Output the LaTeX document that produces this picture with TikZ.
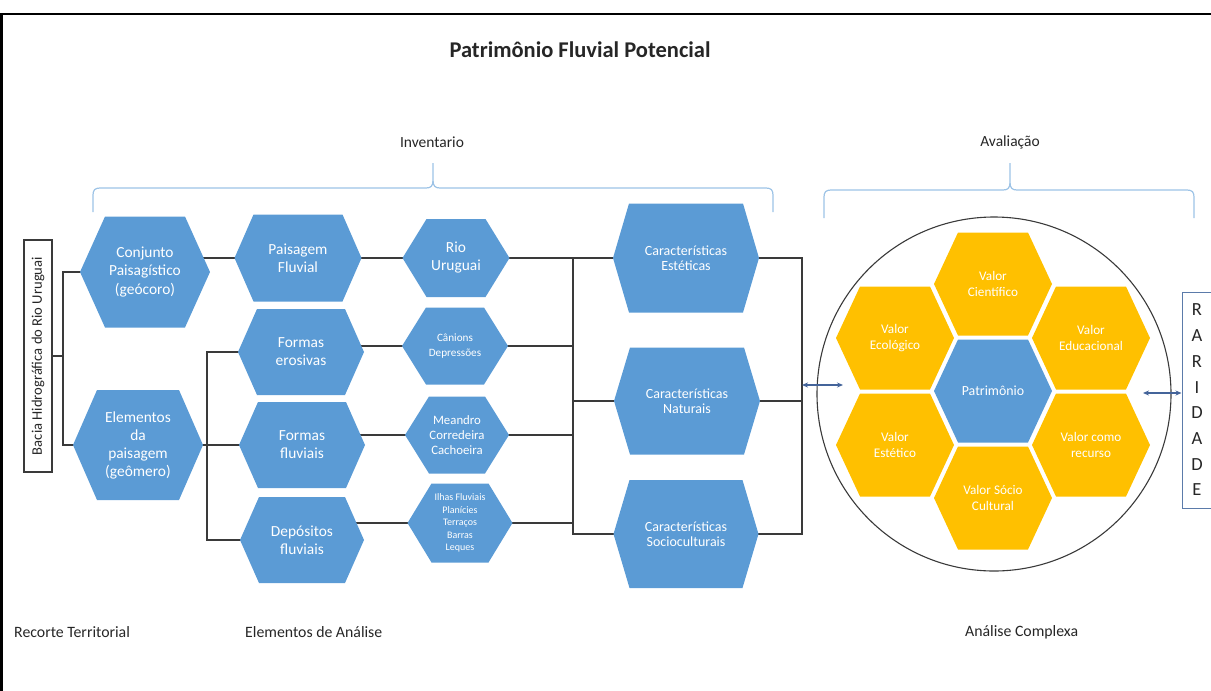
\documentclass[tikz,border=0pt]{standalone}
\usepackage{fontspec}
\usepackage{graphicx}
\setmainfont{Carlito}
\usetikzlibrary{arrows.meta,calc,backgrounds}

\definecolor{hexblue}{HTML}{5B9BD5}
\definecolor{hexgold}{HTML}{FFC000}
\definecolor{linegray}{HTML}{3A3A3A}
\definecolor{bracecol}{HTML}{9DC3E6}
\definecolor{arrowblue}{HTML}{44649A}
\definecolor{labelgray}{HTML}{262626}
\definecolor{boxblue}{HTML}{5B7BAA}

\tikzset{
  hexshape/.style n args={4}{minimum width=#1pt, minimum height=#2pt,
    inner sep=0pt, outer sep=0pt, align=center, text=white,
    path picture={\fill[#4]
      ([xshift=#3pt]path picture bounding box.north west) --
      ([xshift=-#3pt]path picture bounding box.north east) --
      (path picture bounding box.east) --
      ([xshift=-#3pt]path picture bounding box.south east) --
      ([xshift=#3pt]path picture bounding box.south west) --
      (path picture bounding box.west) -- cycle;}},
  hb/.style n args={3}{hexshape={#1}{#2}{#3}{hexblue}},
  hy/.style n args={3}{hexshape={#1}{#2}{#3}{hexgold}},
  fs/.style 2 args={font=\fontsize{#1}{#2}\selectfont},
  conn/.style={draw=linegray, line width=1.1pt},
  dbl/.style={{Stealth[length=6pt,width=5pt]}-{Stealth[length=6pt,width=5pt]},
    draw=arrowblue, line width=1.1pt},
  bracepath/.style={draw=bracecol, line width=1.2pt},
  label/.style={text=labelgray, inner sep=0pt},
}

\begin{document}
\begin{tikzpicture}[x=1pt, y=-1pt]
\path[use as bounding box, clip] (0,0) rectangle (1211,691);

% page frame
\draw[line width=2.8pt, black] (1.3,691) -- (1.3,14) -- (1211,14);

% headings
\node[label, font=\fontsize{22.5}{26}\selectfont\bfseries] (title) at (580,50) {Patrimônio Fluvial Potencial};
\node[label, fs={15.5}{18}] (inv) at (432,142) {Inventario};
\node[label, fs={15.5}{18}] (aval) at (1010,142) {Avaliação};

% curly braces
\draw[bracepath] (93,212) -- (93,195) .. controls (93,190) and (95,188) .. (100,188)
  -- (426,188) .. controls (431,188) and (433,186) .. (433,180) -- (433,163)
  -- (433,180) .. controls (433,186) and (435,188) .. (440,188)
  -- (766,188) .. controls (771,188) and (773,190) .. (773,195) -- (773,212);
\draw[bracepath] (824,218) -- (824,197) .. controls (824,192) and (826,190) .. (831,190)
  -- (1003,190) .. controls (1008,190) and (1010,188) .. (1010,182) -- (1010,163)
  -- (1010,182) .. controls (1010,188) and (1012,190) .. (1017,190)
  -- (1187,190) .. controls (1192,190) and (1194,192) .. (1194,197) -- (1194,218);

% territorial unit
\node[draw=linegray, line width=1.1pt, minimum width=28pt, minimum height=232pt, inner sep=0pt,
  text=labelgray, fs={14.6}{17}] (bacia) at (38,356) {\rotatebox{90}{Bacia Hidrográfica do Rio Uruguai}};

% first column
\node[hb={130}{111}{25}, fs={15.4}{18.3}] (con) at (145,272) {Conjunto\\Paisagístico\\(geócoro)};
\node[hb={130}{110}{24}, fs={15.4}{18}] (ele) at (138,445) {Elementos\\da\\paisagem\\(geômero)};

% second column
\node[hb={127}{87}{19}, fs={15.4}{18}] (pai) at (298,258) {Paisagem\\Fluvial};
\node[hb={126}{86}{19}, fs={15.4}{18}] (ero) at (301,352) {Formas\\erosivas};
\node[hb={126}{86}{19}, fs={15.4}{18}] (flu) at (302,445) {Formas\\fluviais};
\node[hb={124}{86}{19}, fs={15.4}{18}] (dep) at (302,540) {Depósitos\\fluviais};

% third column
\node[hb={107}{78}{24}, fs={15.4}{18}] (rio) at (456,258) {Rio\\Uruguai};
\node[hb={106}{77}{24}, fs={11.2}{15}] (can) at (455,346) {Cânions\\Depressões};
\node[hb={104}{77}{24}, fs={12.8}{15}] (mea) at (457,435) {Meandro\\Corredeira\\Cachoeira};
\node[hb={105}{79}{24}, fs={10}{12.5}] (ilh) at (460,523) {Ilhas Fluviais\\Planícies\\Terraços\\Barras\\Leques};

% fourth column
\node[hb={146}{109}{16}, fs={14}{15}] (est) at (686,258) {Características\\Estéticas};
\node[hb={146}{107}{16}, fs={14}{15}] (nat) at (687,401) {Características\\Naturais};
\node[hb={145}{108}{16}, fs={14}{15}] (soc) at (686,534) {Características\\Socioculturais};

% branch positions of the connector trees
\coordinate (t1) at (63,0);
\coordinate (t2) at (207,0);
\coordinate (t3) at (573,0);
\coordinate (t4) at (802,0);

\begin{scope}[on background layer]
  % territorial unit to its two groups
  \draw[conn] (bacia.east) -- (bacia.east -| t1);
  \draw[conn] (con.center) -- (con.center -| t1) -- (ele.center -| t1) -- (ele.center);
  % landscape set to fluvial landscape
  \draw[conn] (pai.center -| con.center) -- (pai.center);
  % landscape elements to the three forms
  \draw[conn] (ele.center) -- (ele.center -| t2);
  \draw[conn] (ero.center) -- (ero.center -| t2) -- (dep.center -| t2) -- (dep.center);
  \draw[conn] (flu.center) -- (flu.center -| t2);
  % second to third column
  \draw[conn] (rio.center -| pai.center) -- (rio.center);
  \draw[conn] (can.center -| ero.center) -- (can.center);
  \draw[conn] (mea.center -| flu.center) -- (mea.center);
  \draw[conn] (ilh.center -| dep.center) -- (ilh.center);
  % third column to characteristics
  \draw[conn] (rio.center) -- (est.center);
  \draw[conn] (can.center) -- (can.center -| t3);
  \draw[conn] (mea.center) -- (mea.center -| t3);
  \draw[conn] (ilh.center) -- (ilh.center -| t3);
  \draw[conn] (rio.center -| t3) -- (soc.center -| t3) -- (soc.center);
  \draw[conn] (nat.center -| t3) -- (nat.center);
  % characteristics gathered on the right
  \draw[conn] (est.center) -- (est.center -| t4) -- (soc.center -| t4) -- (soc.center);
  \draw[conn] (nat.center) -- (nat.center -| t4);
\end{scope}

% evaluation circle
\node[circle, draw=linegray, line width=1.1pt, minimum size=354pt, inner sep=0pt] (circ) at (994,394) {};

% honeycomb of values
\node[hb={118}{103}{24}, fs={13.9}{16}] (pat) at (993,391) {Patrimônio};
\node[hy={118}{103}{24}, fs={13.2}{15.7}] (cie) at (993,284) {Valor\\Científico};
\node[hy={118}{103}{24}, fs={13.2}{15.7}] (eco) at (895,338) {Valor\\Ecológico};
\node[hy={118}{103}{24}, fs={13.2}{15.7}] (edu) at (1091,338) {Valor\\Educacional};
\node[hy={118}{103}{24}, fs={13.2}{15.7}] (este) at (895,445) {Valor\\Estético};
\node[hy={118}{103}{24}, fs={13.2}{15.7}] (rec) at (1091,445) {Valor como\\recurso};
\node[hy={118}{103}{24}, fs={13.2}{15.7}] (sci) at (993,498) {Valor Sócio\\Cultural};

% rarity box
\node[draw=boxblue, line width=1pt, minimum width=30pt, minimum height=216pt, inner sep=0pt,
  align=center, text=labelgray, fs={18.5}{25.7}] (rar) at (1197,400) {R\\A\\R\\I\\D\\A\\D\\E};

% two-way links
\coordinate (la) at (843,385);
\coordinate (ra) at (1143,393);
\draw[dbl] (la -| t4) -- (la);
\draw[dbl] (ra) -- (ra -| rar.west);

% bottom captions
\node[label, anchor=west, fs={15.8}{18}] (cap1) at (14,632) {Recorte Territorial};
\node[label, anchor=west, fs={15.8}{18}] (cap2) at (245,632) {Elementos de Análise};
\node[label, anchor=west, fs={15.8}{18}] (cap3) at (965,632) {Análise Complexa};
\end{tikzpicture}
\end{document}
